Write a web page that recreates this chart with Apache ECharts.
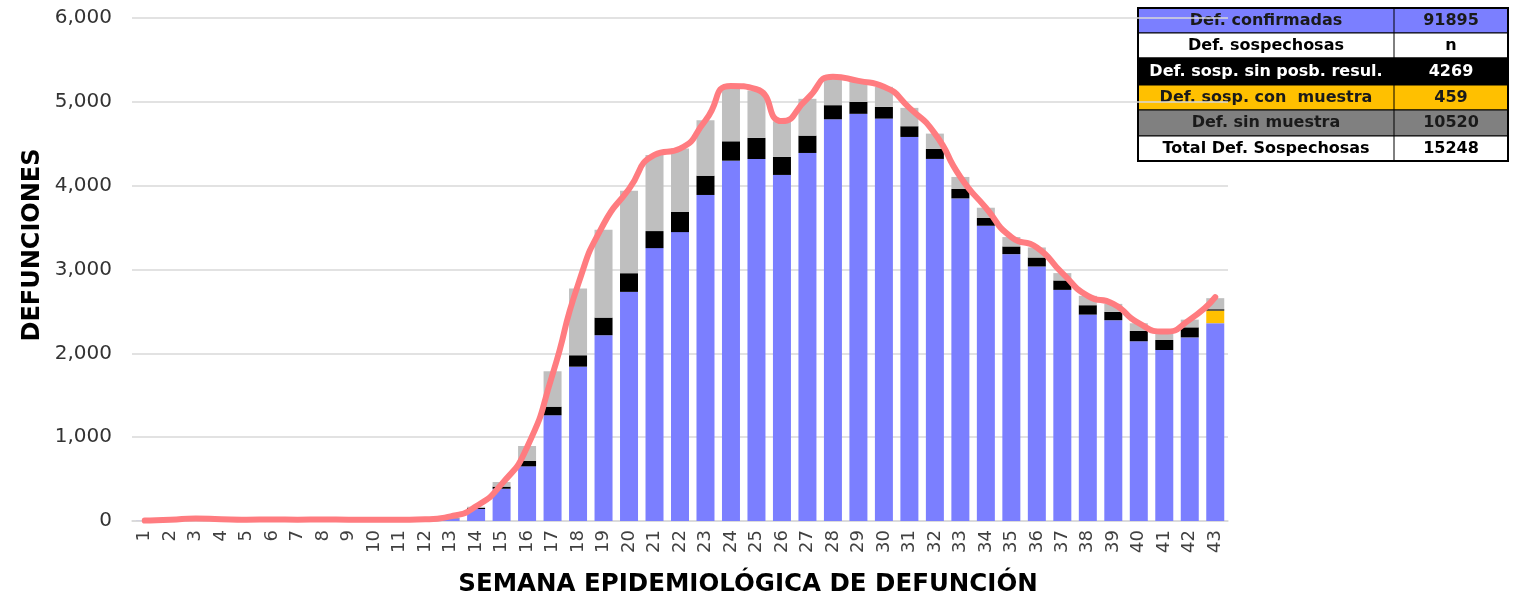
<!DOCTYPE html>
<html>
<head>
<meta charset="utf-8">
<script src="https://cdn.jsdelivr.net/npm/echarts@6/dist/echarts.min.js"></script>
<style>html,body{margin:0;padding:0;background:#fff;}#c{width:1514px;height:599px;}</style>
</head>
<body>
<div id="c"></div>
<script>
const weeks = ['1','2','3','4','5','6','7','8','9','10','11','12','13','14','15','16','17','18','19','20','21','22','23','24','25','26','27','28','29','30','31','32','33','34','35','36','37','38','39','40','41','42','43'];
const confirmadas = [1,2,3,2,1,2,1,2,1,1,2,8,30,143,385,652,1261,1841,2216,2733,3255,3446,3889,4298,4318,4128,4390,4792,4857,4800,4581,4319,3848,3522,3183,3036,2757,2462,2395,2144,2040,2190,2360];
const conMuestra = [0,0,0,0,0,0,0,0,0,0,0,0,0,0,0,0,0,0,0,0,0,0,0,0,0,0,0,0,0,0,0,0,0,0,0,0,0,0,0,0,0,0,150];
const sinPosibResul = [0,0,0,0,0,0,0,0,0,0,0,1,3,15,25,64,103,136,210,223,203,243,230,231,252,215,207,168,143,140,128,119,112,92,92,107,112,112,100,123,119,120,16];
const sinMuestra = [0,0,0,0,0,0,0,0,0,0,0,2,10,12,55,179,422,796,1048,984,909,753,661,626,565,425,439,327,246,239,219,183,144,123,112,120,88,112,95,92,100,92,132];
const tendencia = [5,15,30,20,15,18,15,18,15,15,15,20,55,175,440,880,1750,2820,3540,3960,4367,4442,4780,5190,5150,4770,5040,5300,5250,5180,4928,4621,4104,3737,3387,3263,2957,2686,2590,2359,2259,2402,2670];
const yTicks = [0,1000,2000,3000,4000,5000,6000];
const tableLabels = ['Def. confirmadas','Def. sospechosas','Def. sosp. sin posb. resul.','Def. sosp. con  muestra','Def. sin muestra','Total Def. Sospechosas'];
const tableValues = ['91895','n','4269','459','10520','15248'];

const COLORS = {blue:'#7B7FFF', black:'#000000', yellow:'#FFC000', gray:'#BFBFBF', line:'#FF7C80'};
const FONT = 'DejaVu Sans';

// table graphics
const rowFill = ['#7B7FFF','#FFFFFF','#000000','#FFC000','#808080','#FFFFFF'];
const rowText = ['#1a1a1a','#000000','#FFFFFF','#1a1a1a','#1a1a1a','#000000'];
const rowTops = [8,33,58,85,110,136,161];
const tX0 = 1138, tX1 = 1394, tX2 = 1508;
const tableEls = [];
for (let i = 0; i < tableLabels.length; i++) {
  const y0 = rowTops[i], h = rowTops[i+1]-rowTops[i];
  tableEls.push({type:'rect', shape:{x:tX0,y:y0,width:tX2-tX0,height:h}, style:{fill:rowFill[i], stroke:'#000', lineWidth:1}});
  tableEls.push({type:'line', shape:{x1:tX1,y1:y0,x2:tX1,y2:y0+h}, style:{stroke:'#000', lineWidth:1}});
  tableEls.push({type:'text', x:(tX0+tX1)/2, y:y0+h/2, style:{text:tableLabels[i], fill:rowText[i], font:'bold 16px '+FONT, align:'center', verticalAlign:'middle'}});
  tableEls.push({type:'text', x:(tX1+tX2)/2, y:y0+h/2, style:{text:tableValues[i], fill:rowText[i], font:'bold 16px '+FONT, align:'center', verticalAlign:'middle'}});
}
tableEls.push({type:'rect', shape:{x:tX0,y:rowTops[0],width:tX2-tX0,height:rowTops[6]-rowTops[0]}, style:{fill:'none', stroke:'#000', lineWidth:2}});

const chart = echarts.init(document.getElementById('c'), null, {renderer:'canvas'});
const barBase = {type:'bar', stack:'t', barWidth:18, emphasis:{disabled:true}};
chart.setOption({
  animation:false,
  textStyle:{fontFamily:FONT},
  grid:{left:132, right:286, top:18, bottom:78, containLabel:false},
  xAxis:{
    type:'category', data:weeks,
    axisLine:{show:true, lineStyle:{color:'#D9D9D9', width:1.5}},
    axisTick:{show:false},
    axisLabel:{rotate:90, fontSize:18, color:'#404040', margin:9, fontFamily:FONT, interval:0}
  },
  yAxis:{
    type:'value', min:yTicks[0], max:yTicks[yTicks.length-1], interval:1000,
    axisLine:{show:false}, axisTick:{show:false},
    splitLine:{lineStyle:{color:'#D9D9D9', width:1.5}},
    axisLabel:{fontSize:20, color:'#333', margin:20, fontFamily:FONT,
      formatter:v=>v.toLocaleString('en-US')}
  },
  series:[
    Object.assign({name:'Def. confirmadas', data:confirmadas, itemStyle:{color:COLORS.blue}}, barBase),
    Object.assign({name:'Def. sosp. con muestra', data:conMuestra, itemStyle:{color:COLORS.yellow}}, barBase),
    Object.assign({name:'Def. sosp. sin posb. resul.', data:sinPosibResul, itemStyle:{color:COLORS.black}}, barBase),
    Object.assign({name:'Def. sin muestra', data:sinMuestra, itemStyle:{color:COLORS.gray}}, barBase),
    {name:'Total', type:'line', data:tendencia, smooth:0.6, symbol:'none',
     lineStyle:{color:COLORS.line, width:6, cap:'round', join:'round'}, z:5}
  ],
  graphic:[
    {type:'text', x:33, y:245, rotation:Math.PI/2, style:{text:'DEFUNCIONES', fill:'#000', font:'bold 24px '+FONT, align:'center', verticalAlign:'middle'}},
    {type:'text', x:748, y:585, style:{text:'SEMANA EPIDEMIOLÓGICA DE DEFUNCIÓN', fill:'#000', font:'bold 24.5px '+FONT, align:'center', verticalAlign:'middle'}}
  ].concat(tableEls)
});
</script>
</body>
</html>
